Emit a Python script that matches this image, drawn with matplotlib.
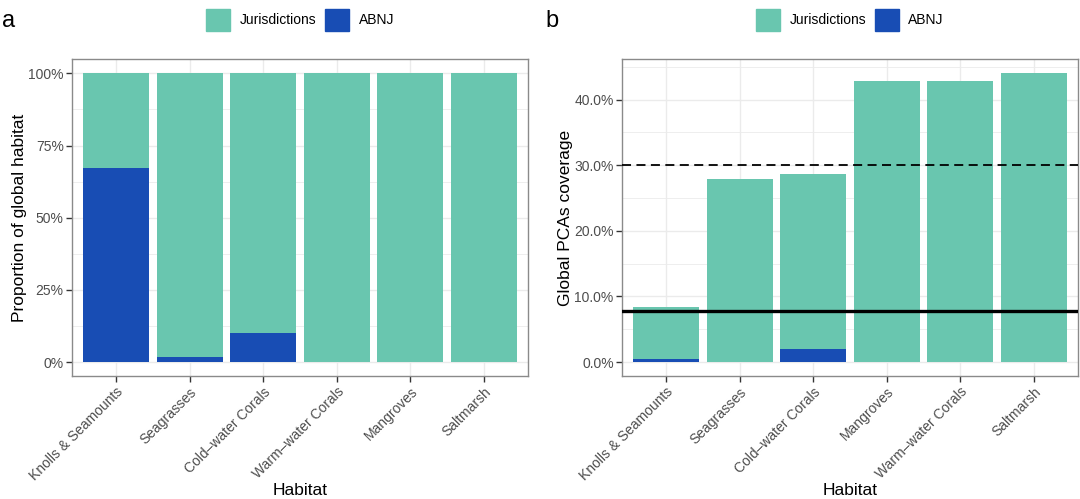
import matplotlib.pyplot as plt
from matplotlib.ticker import FuncFormatter, MultipleLocator
from matplotlib.patches import Patch

plt.rcParams['font.family'] = ['Liberation Sans', 'DejaVu Sans']

# panel a data: share of global habitat
habitats_a = ["Knolls & Seamounts", "Seagrasses", "Cold\u2013water Corals",
              "Warm\u2013water Corals", "Mangroves", "Saltmarsh"]
abnj_a = [0.671, 0.018, 0.099, 0.0, 0.0, 0.0]
juris_a = [1 - v for v in abnj_a]

# panel b data: global PCA coverage
habitats_b = ["Knolls & Seamounts", "Seagrasses", "Cold\u2013water Corals",
              "Mangroves", "Warm\u2013water Corals", "Saltmarsh"]
total_b = [0.0845, 0.2785, 0.287, 0.428, 0.428, 0.440]
abnj_b = [0.0046, 0.0, 0.0204, 0.0, 0.0, 0.0]
juris_b = [t - a for t, a in zip(total_b, abnj_b)]
target_line = 0.30
ocean_line = 0.078

TEAL = '#69C6AF'
BLUE = '#184DB4'
GRID = '#EBEBEB'
BORDER = '#8A8A8A'
TICKC = '#4D4D4D'

fig = plt.figure(figsize=(10.8, 4.99), dpi=100)
ax_a = fig.add_axes([0.0667, 0.2455, 0.4222, 0.6363])
ax_b = fig.add_axes([0.5759, 0.2455, 0.4222, 0.6363])


def style(ax, labels, ymax):
    n = len(labels)
    ax.set_xlim(-0.6, n - 1 + 0.6)
    ax.set_ylim(-0.05 * ymax, 1.05 * ymax)
    ax.set_xticks(range(n))
    ax.set_xticklabels(labels, rotation=45, ha='right', va='top',
                       rotation_mode='anchor', fontsize=10, color=TICKC)
    ax.set_axisbelow(True)
    ax.grid(True, which='major', color=GRID, linewidth=1.0)
    ax.grid(True, which='minor', axis='y', color=GRID, linewidth=0.6)
    for s in ax.spines.values():
        s.set_color(BORDER)
        s.set_linewidth(1.0)
    ax.tick_params(axis='both', which='major', length=4, width=1.0,
                   color='#333333', labelcolor=TICKC, labelsize=10, pad=2)
    ax.tick_params(axis='y', which='minor', length=0)
    ax.set_xlabel("Habitat", fontsize=12.5, labelpad=0)


x = range(len(habitats_a))
ax_a.bar(x, abnj_a, width=0.9, color=BLUE, label='ABNJ', zorder=2)
ax_a.bar(x, juris_a, width=0.9, bottom=abnj_a, color=TEAL,
         label='Jurisdictions', zorder=2)
style(ax_a, habitats_a, 1.0)
ax_a.yaxis.set_major_locator(MultipleLocator(0.25))
ax_a.yaxis.set_minor_locator(MultipleLocator(0.125))
ax_a.yaxis.set_major_formatter(FuncFormatter(lambda v, p: f"{v*100:.0f}%"))
ax_a.set_ylabel("Proportion of global habitat", fontsize=12.5, labelpad=1)

x = range(len(habitats_b))
ax_b.bar(x, abnj_b, width=0.9, color=BLUE, label='ABNJ', zorder=2)
ax_b.bar(x, juris_b, width=0.9, bottom=abnj_b, color=TEAL,
         label='Jurisdictions', zorder=2)
ax_b.axhline(target_line, color='black', linestyle=(0, (5, 3)), linewidth=1.3, zorder=3)
ax_b.axhline(ocean_line, color='black', linewidth=2.4, zorder=3)
style(ax_b, habitats_b, max(total_b))
ax_b.yaxis.set_major_locator(MultipleLocator(0.10))
ax_b.yaxis.set_minor_locator(MultipleLocator(0.05))
ax_b.yaxis.set_major_formatter(FuncFormatter(lambda v, p: f"{v*100:.1f}%"))
ax_b.set_ylabel("Global PCAs coverage", fontsize=12.5, labelpad=1)

handles = [Patch(color=TEAL, label='Jurisdictions'), Patch(color=BLUE, label='ABNJ')]
for ax in (ax_a, ax_b):
    ax.legend(handles=handles, loc='center', bbox_to_anchor=(0.5, 1.123),
              ncol=2, frameon=False, fontsize=10, handlelength=1.75,
              handleheight=2.15, handletextpad=0.65, columnspacing=0.65,
              borderaxespad=0)

fig.text(0.002, 0.958, "a", fontsize=17, va='center', ha='left')
fig.text(0.505, 0.958, "b", fontsize=17, va='center', ha='left')

fig.savefig("out.png", dpi=100)
